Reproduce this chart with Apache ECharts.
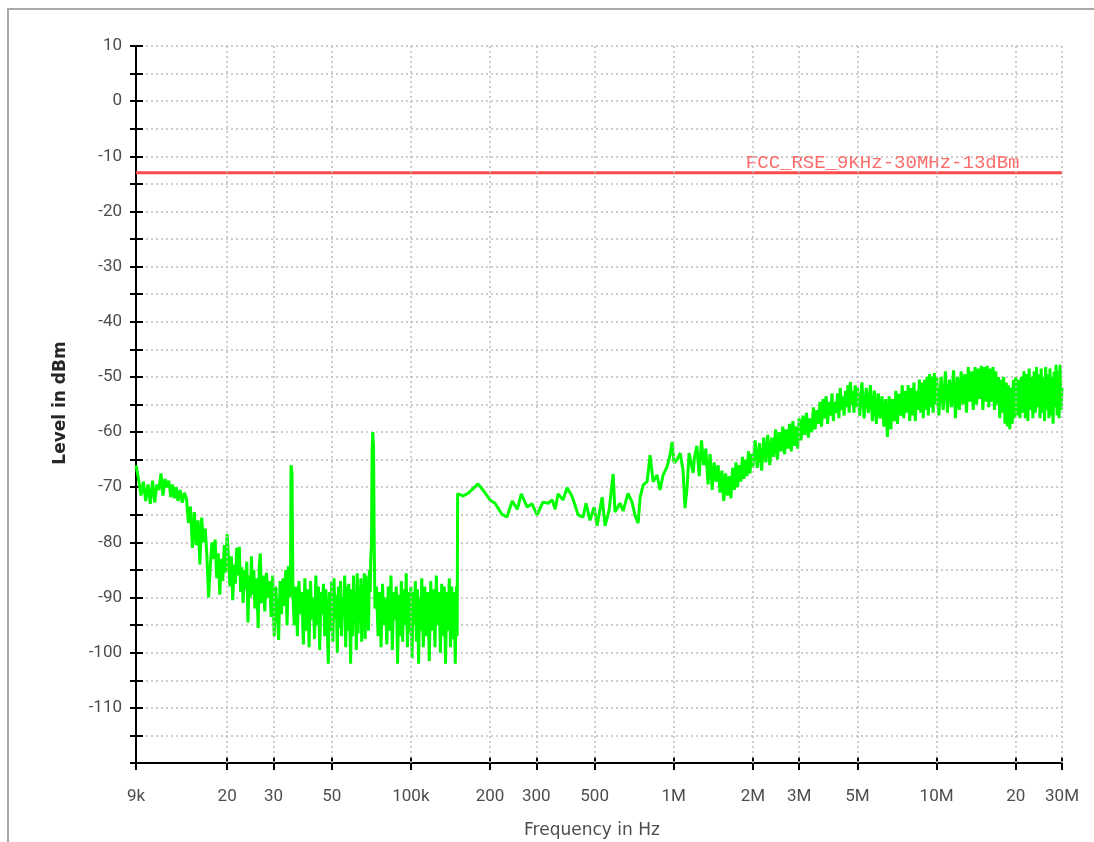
<!DOCTYPE html>
<html><head><meta charset="utf-8">
<script src="https://cdn.jsdelivr.net/npm/echarts@6/dist/echarts.min.js"></script>
<style>html,body{margin:0;padding:0;background:#fff}#c{width:1094px;height:842px}</style>
</head><body><div id="c"></div>
<script>
// ---- axis ticks ----
const xTickHz = [9e3, 2e4, 3e4, 5e4, 1e5, 2e5, 3e5, 5e5, 1e6, 2e6, 3e6, 5e6, 1e7, 2e7, 3e7];
const xTickLabels = ['9k', '20', '30', '50', '100k', '200', '300', '500', '1M', '2M', '3M', '5M', '10M', '20', '30M'];
const xGridHz = [2e4, 3e4, 5e4, 1e5, 2e5, 3e5, 5e5, 1e6, 2e6, 3e6, 5e6, 1e7, 2e7, 3e7];

// ---- limit line ----
const limitName = 'FCC_RSE_9KHz-30MHz-13dBm';
const limitHz = [9e3, 3e7];
const limitDbm = [-13, -13];

// ---- measured trace: [kHz, dBm] 9 kHz .. 35 kHz ----
const band9to35k = [
 [9.0,-66],[9.2,-68.5],[9.4,-71.5],[9.6,-69],[9.8,-72.5],[10.0,-69.5],[10.2,-73],[10.4,-68.8],[10.6,-72.8],[10.8,-69.5],
 [11.0,-70.5],[11.2,-67.5],[11.4,-71.5],[11.6,-68.5],[11.8,-70],[12.0,-68.8],[12.2,-71.8],[12.4,-69.5],[12.6,-72],[12.8,-70],[13.0,-72.5],
 [13.25,-70.5],[13.5,-72.8],[13.75,-71],[14.0,-72],[14.25,-76.5],[14.5,-73.5],[14.75,-81],[15.0,-74.5],[15.25,-80.5],[15.5,-76],
 [15.75,-84],[16.0,-75.5],[16.25,-80],[16.5,-77.5],[16.75,-82.5],[17.0,-90],[17.25,-84.5],[17.5,-80],[17.75,-83],[18.0,-79.5],
 [18.25,-86.5],[18.5,-82],[18.75,-89.5],[19.0,-83],[19.25,-87],[19.5,-80.5],[19.75,-85.5],[20.0,-78.5],
 [20.25,-83],[20.5,-88],[20.75,-82.5],[21.0,-90.5],[21.25,-84],[21.5,-87.5],[21.75,-81],[22.0,-86],[22.25,-80.8],[22.5,-89],
 [22.75,-84.5],[23.0,-91],[23.25,-85],[23.5,-88.5],[23.75,-83.5],[24.0,-94.5],[24.25,-86],[24.5,-90],[24.75,-82.5],[25.0,-89.5],
 [25.25,-85],[25.5,-92],[25.75,-86.5],[26.0,-90],[26.25,-95.5],[26.5,-84],[26.75,-82],[27.0,-91],
 [27.4,-86],[27.8,-92.5],[28.2,-85.5],[28.6,-90],[29.0,-87],[29.4,-93.5],[29.8,-86],[30.2,-97],[30.6,-88],[31.0,-92],
 [31.4,-97.7],[31.8,-87],[32.2,-93],[32.6,-86.5],[33.0,-91.5],[33.4,-85],[33.8,-95],[34.2,-84.3],[34.6,-90],[34.85,-86.5]
];
// ---- [kHz, dBm] 35 kHz .. 150 kHz (two spurs, then step up) ----
const band35to150k = [
 [35.0,-66],[35.3,-67.5],[35.6,-90],
 [36.0,-95],[36.5,-88],[37.0,-97],[37.5,-87],[38.0,-93],[38.5,-89],[39.0,-98.5],[39.5,-86.5],[40.0,-96],[40.5,-88.5],
 [41.0,-99],[41.5,-87],[42.0,-94],[42.5,-90],[43.0,-97.5],[43.5,-86],[44.0,-95],[44.5,-88],[45.0,-99.5],[45.5,-89],
 [46.0,-93],[46.5,-87.5],[47.0,-97],[47.5,-88.5],[48.0,-95],[48.5,-102],[49.0,-89],[49.5,-96],[50.0,-87],[50.5,-98],
 [51.0,-86.5],[51.5,-94],[52.0,-89.5],[52.5,-100],[53.0,-88],[53.5,-95.5],[54.0,-87],[54.5,-97],[55.0,-90],[55.5,-93.5],
 [56.0,-86],[56.5,-99],[57.0,-88],[57.5,-96],[58.0,-87.5],[58.5,-94],[59.0,-102],[59.5,-88.5],[60.0,-97],[60.5,-86],
 [61.0,-95],[61.5,-89],[62.0,-99.5],[62.5,-85.6],[63.0,-96.5],[63.5,-88],[64.0,-94],[64.5,-86.5],[65.0,-98],[65.5,-87.5],
 [66.0,-95],[66.5,-85.6],[67.0,-97.5],[67.5,-86],[68.0,-93],[68.5,-88],[69.0,-96],[69.5,-85],[70.0,-89],
 [70.4,-83],[70.8,-80.5],[71.2,-63.5],[71.6,-60],[72.1,-63],[72.5,-79.5],[73.0,-92],
 [74,-88],[75,-97],[76,-89],[77,-99],[78,-87.5],[79,-95],[80,-90],[81,-98.5],[82,-88],[83,-96],
 [84,-86],[85,-99.5],[86,-89],[87,-94],[88,-88],[89,-102],[90,-89.5],[91,-97],[92,-87],[93,-98],
 [94,-88.5],[95,-95],[96,-85.6],[97,-99],[98,-89],[99,-96.5],[100,-88],[101,-101],[102,-89],[103,-95],
 [104,-87],[105,-98],[106,-88.5],[107,-102],[108,-90],[109,-96],[110,-86.5],
 [111.5,-99],[113,-88],[114.5,-97],[116,-89],[117.5,-101.5],[119,-87],[120.5,-96],[122,-88.5],[123.5,-99],[125,-86],
 [126.5,-95],[128,-89],[129.5,-100],[131,-87.5],[132.5,-97],[134,-88],[135.5,-102],[137,-89],[138.5,-96],[140,-86.5],
 [141.5,-99],[143,-88],[144.5,-97.5],[146,-89],[147.5,-102],[149,-88],[150,-97],[150.6,-71.2]
];
// ---- [kHz, dBm] 150 kHz .. 1.2 MHz ----
const band150kto1M = [
 [155,-71.4],[158,-71.6],[165,-71.1],[180,-69.4],[188,-70.5],[200,-72.3],[209,-72.9],[222,-74.9],[232,-75.4],[243,-72.5],
 [254,-74],[263,-71.2],[277,-73.6],[289,-73],[302,-75],[318,-72.7],[333,-72.9],[345,-72.3],[354,-74],[363,-71.2],
 [379,-72.3],[393,-70.1],[410,-71.6],[433,-75],[452,-75.4],[464,-72.9],[480,-76],[498,-73.6],[511,-77],[534,-71.8],
 [548,-77],[568,-74.1],[588,-67.6],[598,-74.5],[625,-72.9],[642,-74.3],[670,-71.1],[694,-72.7],[713,-75.2],[732,-76.5],
 [745,-71.8],[765,-69.6],[792,-69],[813,-64.2],[835,-69],[864,-67.8],[887,-70.5],[911,-67.8],[943,-66.3],[968,-64.2],
 [986,-61.8],[1003,-65.6],[1030,-65],[1057,-63.8],[1085,-66.9],[1104,-73.8],[1124,-70],[1144,-63.8],[1185,-67.4]
];
// ---- [MHz, dBm] 1.2 MHz .. 5 MHz ----
const band1to5M = [
 [1.2,-64.5],[1.225,-62.5],[1.25,-68],[1.275,-61.5],[1.3,-66],[1.325,-63],[1.35,-69.5],[1.375,-64],[1.4,-70.5],[1.425,-65.5],
 [1.45,-69],[1.475,-66],[1.5,-71],[1.525,-67],[1.55,-72.5],[1.575,-67.5],[1.6,-71.5],[1.625,-68],[1.65,-72],[1.675,-66.5],
 [1.7,-70.5],[1.725,-65.5],[1.75,-70],[1.775,-66],[1.8,-69],[1.825,-64.5],[1.85,-68.5],[1.875,-65],[1.9,-68],[1.925,-63.5],
 [1.95,-67.5],[1.975,-64],[2.0,-66.5],
 [2.04,-61.5],[2.08,-66.5],[2.12,-62],[2.16,-67],[2.2,-61],[2.24,-65.5],[2.28,-60.5],[2.32,-66],[2.36,-61],[2.4,-64.5],
 [2.44,-59.5],[2.48,-65],[2.52,-60],[2.56,-63.5],[2.6,-59],[2.64,-64],[2.68,-59.5],[2.72,-63],[2.76,-58.5],[2.8,-63.5],
 [2.84,-58],[2.88,-62.5],[2.92,-59],[2.96,-63],[3.0,-57.5],
 [3.05,-61.5],[3.1,-57],[3.15,-60.5],[3.2,-56.5],[3.25,-61],[3.3,-57.5],[3.35,-60],[3.4,-55.5],[3.45,-59.5],[3.5,-56],
 [3.55,-58.5],[3.6,-54.5],[3.65,-59],[3.7,-54],[3.75,-57.5],[3.8,-53.5],[3.85,-58.5],[3.9,-54.5],[3.95,-57],[4.0,-53],
 [4.05,-58],[4.1,-54.5],[4.15,-56.5],[4.2,-53],[4.25,-57.5],[4.3,-52],[4.35,-56],[4.4,-53.5],[4.45,-57],[4.5,-52.5],
 [4.55,-55.5],[4.6,-51.5],[4.65,-56.5],[4.7,-50.9],[4.75,-55],[4.8,-52.5],[4.85,-56.5],[4.9,-51.5],[4.95,-55.5],[5.0,-52]
];
// ---- [MHz, dBm] 5 MHz .. 30 MHz ----
const band5to30M = [
 [5.1,-57],[5.2,-51],[5.3,-57.5],[5.4,-52],[5.5,-56.5],[5.6,-51.5],[5.7,-58],[5.8,-52.5],[5.9,-58.5],[6.0,-53],
 [6.1,-57.5],[6.2,-53.5],[6.3,-59],[6.4,-54],[6.5,-60.9],[6.6,-53.5],[6.7,-59.5],[6.8,-54],[6.9,-58],[7.0,-52.5],
 [7.1,-58.5],[7.2,-53],[7.3,-57],[7.4,-51.5],[7.5,-57.5],[7.6,-52.5],[7.7,-56.5],[7.8,-51.5],[7.9,-58],[8.0,-52],
 [8.1,-57],[8.2,-51],[8.3,-58],[8.4,-52.5],[8.5,-56],[8.6,-50.5],[8.7,-56.5],[8.8,-51],[8.9,-57.5],[9.0,-50.5],
 [9.1,-56],[9.2,-50],[9.3,-57],[9.4,-49.5],[9.5,-55.5],[9.6,-50],[9.7,-56.5],[9.8,-49.3],[9.9,-55],[10.0,-50],
 [10.2,-57],[10.4,-50],[10.6,-56],[10.8,-49],[11.0,-56.5],[11.2,-50.5],[11.4,-55.5],[11.6,-48.8],[11.8,-57.5],[12.0,-50],
 [12.2,-56],[12.4,-49],[12.6,-55],[12.8,-49.5],[13.0,-56.5],[13.2,-48.2],[13.4,-54.5],[13.6,-49],[13.8,-56],[14.0,-48.2],
 [14.2,-55],[14.4,-48.5],[14.6,-54],[14.8,-48],[15.0,-56],[15.2,-48.2],[15.4,-54.5],[15.6,-48],[15.8,-55.5],[16.0,-48.5],
 [16.2,-54.5],[16.4,-48.2],[16.6,-56],[16.8,-49],[17.0,-55],[17.2,-50],[17.4,-57.5],[17.6,-50.5],[17.8,-56.5],[18.0,-50],
 [18.2,-58.5],[18.4,-51],[18.6,-59],[18.8,-51.5],[19.0,-59.5],[19.2,-52],[19.4,-58.5],[19.6,-50.5],[19.8,-57.5],[20.0,-50],
 [20.25,-57],[20.5,-50.5],[20.75,-57.5],[21.0,-50],[21.25,-56.5],[21.5,-49],[21.75,-57.5],[22.0,-49.5],[22.25,-58],[22.5,-48.5],
 [22.75,-56],[23.0,-50],[23.25,-57.5],[23.5,-49],[23.75,-56.5],[24.0,-48.2],[24.25,-55.5],[24.5,-49.5],[24.75,-57.5],[25.0,-48.5],
 [25.25,-56.5],[25.5,-50],[25.75,-58],[26.0,-48.2],[26.25,-56],[26.5,-49.5],[26.75,-57.5],[27.0,-48.5],[27.25,-57],[27.5,-50],
 [27.75,-58.5],[28.0,-49],[28.25,-55.5],[28.5,-47.8],[28.75,-57],[29.0,-49],[29.25,-57.5],[29.5,-47.8],[29.75,-56],[30.0,-52]
];

const kHz = pts => pts.map(p => [p[0] * 1e3, p[1]]);
const MHz = pts => pts.map(p => [p[0] * 1e6, p[1]]);
const trace = [].concat(kHz(band9to35k), kHz(band35to150k), kHz(band150kto1M), MHz(band1to5M), MHz(band5to30M));

function xLabel(v) {
  for (let i = 0; i < xTickHz.length; i++) {
    if (Math.abs(Math.log10(v) - Math.log10(xTickHz[i])) < 1e-4) return xTickLabels[i];
  }
  return '';
}

const tickFont = { color: '#4d4d4d', fontSize: 17, fontFamily: 'Roboto' };
const axisLineStyle = { color: '#000', width: 2 };
const xBase = { type: 'log', logBase: 10, min: 9e3, max: 3e7, gridIndex: 0,
  axisLine: { show: true, onZero: false, lineStyle: axisLineStyle },
  splitLine: { show: false }, minorTick: { show: false }, minorSplitLine: { show: false } };
const yBase = { type: 'value', min: -120, max: 10, interval: 5, position: 'left', gridIndex: 0,
  axisLine: { show: true, onZero: false, lineStyle: axisLineStyle } };

const chart = echarts.init(document.getElementById('c'), null, { renderer: 'canvas' });
chart.setOption({
  animation: false,
  backgroundColor: '#fff',
  grid: { left: 136, right: 32, top: 46, bottom: 79, containLabel: false },
  xAxis: [
    Object.assign({}, xBase, {
      position: 'bottom',
      axisTick: { show: true, inside: false, length: 7, customValues: xTickHz, lineStyle: axisLineStyle },
      axisLabel: Object.assign({ show: true, customValues: xTickHz, margin: 25, formatter: xLabel }, tickFont)
    }),
    Object.assign({}, xBase, {
      position: 'bottom',
      axisTick: { show: true, inside: true, length: 6, customValues: xTickHz, lineStyle: axisLineStyle },
      axisLabel: { show: false }
    })
  ],
  yAxis: [
    Object.assign({}, yBase, {
      axisTick: { show: true, inside: false, length: 6, lineStyle: axisLineStyle },
      axisLabel: Object.assign({ show: true, margin: 14,
        formatter: v => (v % 10 === 0 && v !== -120) ? String(v) : '' }, tickFont),
      splitLine: { show: true, lineStyle: { color: '#bdbdbd', type: [2, 3], width: 1.5 } }
    }),
    Object.assign({}, yBase, {
      axisTick: { show: true, inside: true, length: 7, lineStyle: axisLineStyle },
      axisLabel: { show: false },
      splitLine: { show: false }
    })
  ],
  series: [
    {
      name: 'grid', type: 'line', xAxisIndex: 0, yAxisIndex: 0, z: 1, silent: true,
      data: limitHz.map((f, i) => [f, limitDbm[i]]),
      symbol: 'none', lineStyle: { opacity: 0 },
      markLine: {
        silent: true, symbol: ['none', 'none'], animation: false,
        label: { show: false },
        lineStyle: { color: '#bdbdbd', type: [2, 3], width: 1.5 },
        data: xGridHz.map(f => ({ xAxis: f }))
      }
    },
    {
      name: 'Level', type: 'line', xAxisIndex: 0, yAxisIndex: 0, z: 2,
      data: trace, symbol: 'none', showSymbol: false,
      lineStyle: { color: '#00ff00', width: 3 }, itemStyle: { color: '#00ff00' }
    },
    {
      name: limitName, type: 'line', xAxisIndex: 0, yAxisIndex: 0, z: 3,
      symbol: 'circle', symbolSize: 1, showSymbol: true,
      itemStyle: { color: '#ff4b4b' },
      lineStyle: { color: '#ff4b4b', width: 3 },
      data: limitHz.map((f, i) => i === limitHz.length - 1 ? {
        value: [f, limitDbm[i]],
        label: { show: true, position: 'left', distance: 42, offset: [0, -10],
          formatter: limitName, color: '#ff6b6b', fontSize: 19, fontFamily: 'Liberation Mono' }
      } : [f, limitDbm[i]])
    }
  ],
  graphic: [
    { type: 'rect', silent: true, shape: { x: 8, y: 9, width: 1100, height: 850 },
      style: { fill: 'none', stroke: '#a9a9a9', lineWidth: 2 } },
    { type: 'text', silent: true, x: 592, y: 831,
      style: { text: 'Frequency in Hz', fontSize: 17, fontFamily: 'DejaVu Sans', fill: '#4d4d4d', align: 'center', verticalAlign: 'middle' } },
    { type: 'text', silent: true, x: 61, y: 403, rotation: Math.PI / 2,
      style: { text: 'Level in dBm', fontSize: 17, fontWeight: 'bold', fontFamily: 'DejaVu Sans', fill: '#262626', align: 'center', verticalAlign: 'middle' } }
  ]
});
</script>
</body></html>
